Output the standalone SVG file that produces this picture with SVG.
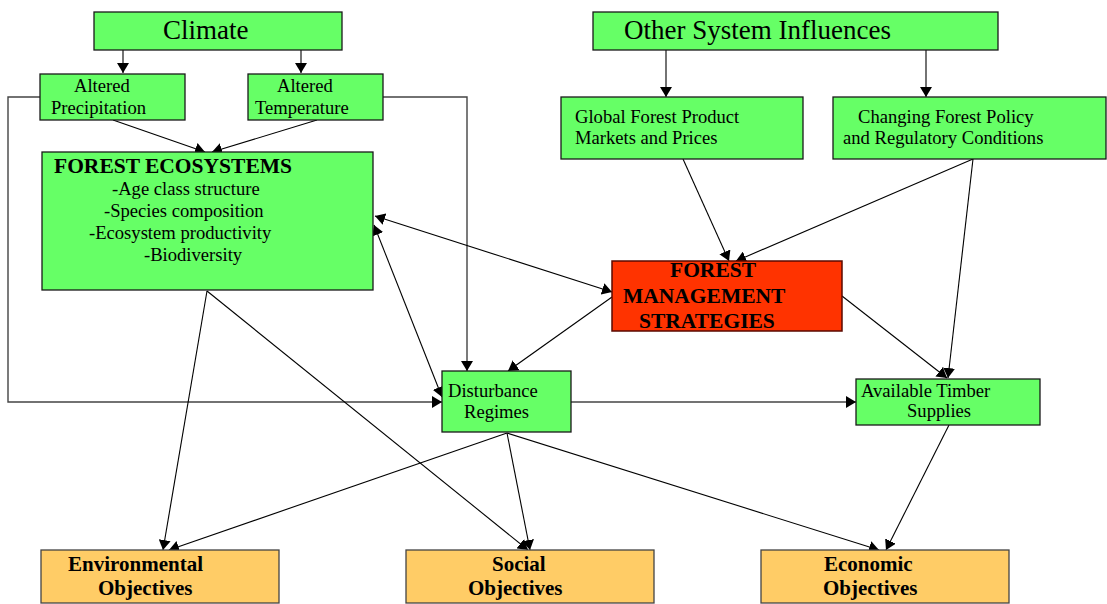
<svg xmlns="http://www.w3.org/2000/svg" width="1107" height="604" viewBox="0 0 1107 604">
<defs>
<marker id="ah" viewBox="0 0 10 12" refX="10" refY="6" markerWidth="10" markerHeight="12" markerUnits="userSpaceOnUse" orient="auto-start-reverse">
<path d="M0,0 L10,6 L0,12 z" fill="#000"/>
</marker>
<style>
.g{fill:#66FF66;stroke:#1a1a1a;stroke-width:1.3}
.r{fill:#FF3300;stroke:#5a0a00;stroke-width:1.5}
.o{fill:#FFCC66;stroke:#444;stroke-width:1.3}
text{font-family:"Liberation Serif","Times New Roman",serif;fill:#000}
.t27{font-size:27px}
.t18{font-size:18.6px}
.b21{font-size:21.5px;font-weight:bold}
.b20{font-size:21px;font-weight:bold}
.c{fill:none;stroke:#000;stroke-width:1.1;marker-end:url(#ah)}
.cd{fill:none;stroke:#000;stroke-width:1.1;marker-end:url(#ah);marker-start:url(#ah)}
.cl{fill:none;stroke:#444;stroke-width:1.4;marker-end:url(#ah)}
</style>
</defs>
<g id="connectors">
<line class="c" x1="123" y1="50" x2="123" y2="73"/>
<line class="c" x1="301" y1="50" x2="301" y2="73"/>
<line class="c" x1="666" y1="50" x2="666" y2="97"/>
<line class="c" x1="926" y1="50" x2="926" y2="97"/>
<line class="c" x1="113" y1="120" x2="205" y2="152"/>
<line class="c" x1="317" y1="120" x2="212" y2="152"/>
<polyline class="cl" points="40,97 8,97 8,402 442,402"/>
<polyline class="cl" points="383,97 467,97 467,371"/>
<line class="c" x1="683" y1="159" x2="729" y2="261"/>
<line class="c" x1="973" y1="159" x2="736" y2="261"/>
<line class="c" x1="973" y1="159" x2="948" y2="378"/>
<line class="cd" x1="375" y1="216" x2="612" y2="292"/>
<line class="cd" x1="374" y1="225" x2="442" y2="397"/>
<line class="c" x1="612" y1="297" x2="508" y2="371"/>
<line class="c" x1="842" y1="296" x2="947" y2="378"/>
<line class="cl" x1="571" y1="402" x2="856" y2="402"/>
<line class="c" x1="949" y1="425" x2="886" y2="550"/>
<line class="c" x1="207" y1="291" x2="163" y2="550"/>
<line class="c" x1="207" y1="291" x2="528" y2="550"/>
<line class="c" x1="507" y1="433" x2="169" y2="550"/>
<line class="c" x1="507" y1="433" x2="530" y2="550"/>
<line class="c" x1="507" y1="433" x2="879" y2="550"/>
</g>
<g id="climate">
<rect class="g" x="94" y="12" width="248" height="38"/>
<text class="t27" x="163" y="39">Climate</text>
</g>
<g id="other-system-influences">
<rect class="g" x="593" y="12" width="405" height="38"/>
<text class="t27" x="624" y="39">Other System Influences</text>
</g>
<g id="altered-precipitation">
<rect class="g" x="40" y="74" width="145" height="46"/>
<text class="t18" x="74" y="92">Altered</text>
<text class="t18" x="51" y="114">Precipitation</text>
</g>
<g id="altered-temperature">
<rect class="g" x="248" y="74" width="135" height="46"/>
<text class="t18" x="277" y="92">Altered</text>
<text class="t18" x="255" y="114">Temperature</text>
</g>
<g id="global-forest-product">
<rect class="g" x="561" y="97" width="242" height="62"/>
<text class="t18" x="575" y="123">Global Forest Product</text>
<text class="t18" x="575" y="144">Markets and Prices</text>
</g>
<g id="changing-forest-policy">
<rect class="g" x="833" y="97" width="273" height="62"/>
<text class="t18" x="858" y="123">Changing Forest Policy</text>
<text class="t18" x="843" y="144">and Regulatory Conditions</text>
</g>
<g id="forest-ecosystems">
<rect class="g" x="42" y="152" width="331" height="138"/>
<text class="b21" x="54" y="173">FOREST ECOSYSTEMS</text>
<text class="t18" x="112" y="195">-Age class structure</text>
<text class="t18" x="104" y="217">-Species composition</text>
<text class="t18" x="89" y="239">-Ecosystem productivity</text>
<text class="t18" x="144" y="261">-Biodiversity</text>
</g>
<g id="forest-management-strategies">
<rect class="r" x="612" y="261" width="230" height="70"/>
<text class="b21" x="670" y="277">FOREST</text>
<text class="b21" x="623" y="303">MANAGEMENT</text>
<text class="b21" x="639" y="328">STRATEGIES</text>
</g>
<g id="disturbance-regimes">
<rect class="g" x="442" y="371" width="129" height="61"/>
<text class="t18" x="448" y="397">Disturbance</text>
<text class="t18" x="464" y="418">Regimes</text>
</g>
<g id="available-timber-supplies">
<rect class="g" x="856" y="379" width="184" height="46"/>
<text class="t18" x="861" y="397">Available Timber</text>
<text class="t18" x="907" y="417">Supplies</text>
</g>
<g id="environmental-objectives">
<rect class="o" x="41" y="550" width="238" height="53"/>
<text class="b20" x="68" y="571">Environmental</text>
<text class="b20" x="98" y="595">Objectives</text>
</g>
<g id="social-objectives">
<rect class="o" x="406" y="550" width="248" height="53"/>
<text class="b20" x="492" y="571">Social</text>
<text class="b20" x="468" y="595">Objectives</text>
</g>
<g id="economic-objectives">
<rect class="o" x="761" y="550" width="248" height="53"/>
<text class="b20" x="824" y="571">Economic</text>
<text class="b20" x="823" y="595">Objectives</text>
</g>
</svg>
